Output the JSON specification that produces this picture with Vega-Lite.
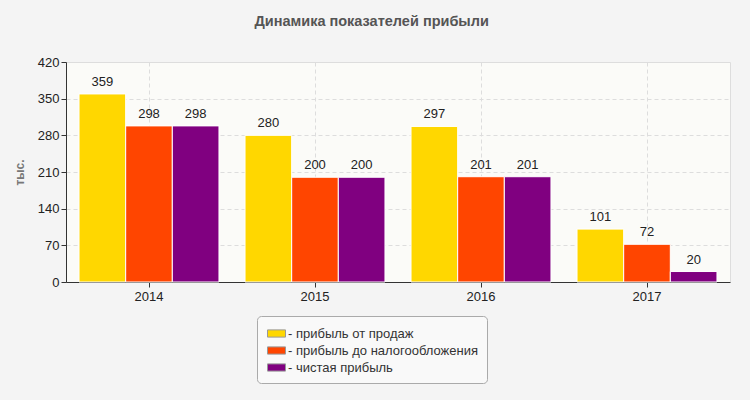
{
  "$schema": "https://vega.github.io/schema/vega-lite/v6.json",
  "width": 664,
  "height": 220,
  "autosize": {"type": "none"},
  "padding": {"left": 66, "top": 62, "right": 20, "bottom": 118},
  "background": "#f4f4f4",
  "title": {
    "text": "Динамика показателей прибыли",
    "font": "Liberation Sans",
    "fontSize": 14.5,
    "fontWeight": "bold",
    "color": "#555555",
    "anchor": "middle",
    "frame": "bounds",
    "offset": 27
  },
  "data": {
    "values": [
      {"year": "2014", "series": "прибыль от продаж", "value": 359},
      {"year": "2014", "series": "прибыль до налогообложения", "value": 298},
      {"year": "2014", "series": "чистая прибыль", "value": 298},
      {"year": "2015", "series": "прибыль от продаж", "value": 280},
      {"year": "2015", "series": "прибыль до налогообложения", "value": 200},
      {"year": "2015", "series": "чистая прибыль", "value": 200},
      {"year": "2016", "series": "прибыль от продаж", "value": 297},
      {"year": "2016", "series": "прибыль до налогообложения", "value": 201},
      {"year": "2016", "series": "чистая прибыль", "value": 201},
      {"year": "2017", "series": "прибыль от продаж", "value": 101},
      {"year": "2017", "series": "прибыль до налогообложения", "value": 72},
      {"year": "2017", "series": "чистая прибыль", "value": 20}
    ]
  },
  "encoding": {
    "x": {
      "field": "year",
      "type": "nominal",
      "scale": {"paddingInner": 0.157, "paddingOuter": 0.0785},
      "axis": {
        "title": null,
        "labelAngle": 0,
        "grid": true,
        "gridDash": [4, 3],
        "gridColor": "#dddddd",
        "domainColor": "#333333",
        "tickColor": "#333333",
        "tickSize": 5,
        "labelPadding": 3,
        "bandPosition": 0.5
      }
    },
    "xOffset": {
      "field": "series",
      "type": "nominal",
      "sort": ["прибыль от продаж", "прибыль до налогообложения", "чистая прибыль"],
      "scale": {"paddingInner": 0, "paddingOuter": 0}
    },
    "y": {
      "field": "value",
      "type": "quantitative",
      "scale": {"domain": [0, 420], "nice": false},
      "axis": {
        "title": "тыс.",
        "titleFont": "Liberation Sans",
        "titleFontSize": 12,
        "titleFontWeight": "bold",
        "titleColor": "#777777",
        "titlePadding": 11,
        "values": [0, 70, 140, 210, 280, 350, 420],
        "grid": true,
        "gridDash": [4, 3],
        "gridColor": "#dddddd",
        "domainColor": "#333333",
        "tickColor": "#333333",
        "tickSize": 5,
        "labelPadding": 2
      }
    }
  },
  "layer": [
    {
      "mark": {"type": "bar", "stroke": "white", "strokeWidth": 1},
      "encoding": {
        "color": {
          "field": "series",
          "type": "nominal",
          "scale": {
            "domain": ["прибыль от продаж", "прибыль до налогообложения", "чистая прибыль"],
            "range": ["#FFD700", "#FF4500", "#800080"]
          },
          "legend": {
            "title": null,
            "orient": "none",
            "legendX": 191,
            "legendY": 254,
            "direction": "vertical",
            "fillColor": "#f9f9f9",
            "strokeColor": "#aaaaaa",
            "cornerRadius": 4,
            "padding": 8,
            "rowPadding": 0,
            "symbolType": "M-1,-0.4H1V0.4H-1Z",
            "symbolSize": 324,
            "symbolStrokeColor": "#999999",
            "symbolStrokeWidth": 1,
            "symbolOffset": 2,
            "labelOffset": 2,
            "labelFont": "Liberation Sans",
            "labelFontSize": 13,
            "labelColor": "#333333",
            "labelExpr": "'- ' + datum.label",
            "labelLimit": 300
          }
        }
      }
    },
    {
      "mark": {"type": "text", "baseline": "bottom", "dy": -5, "font": "Liberation Sans", "fontSize": 13, "color": "#222222"},
      "encoding": {
        "text": {"field": "value", "type": "quantitative"}
      }
    }
  ],
  "config": {
    "view": {"fill": "#fbfbf8", "stroke": "#dddddd"},
    "axis": {
      "labelFont": "Liberation Sans",
      "labelFontSize": 13,
      "labelColor": "#222222"
    }
  }
}
